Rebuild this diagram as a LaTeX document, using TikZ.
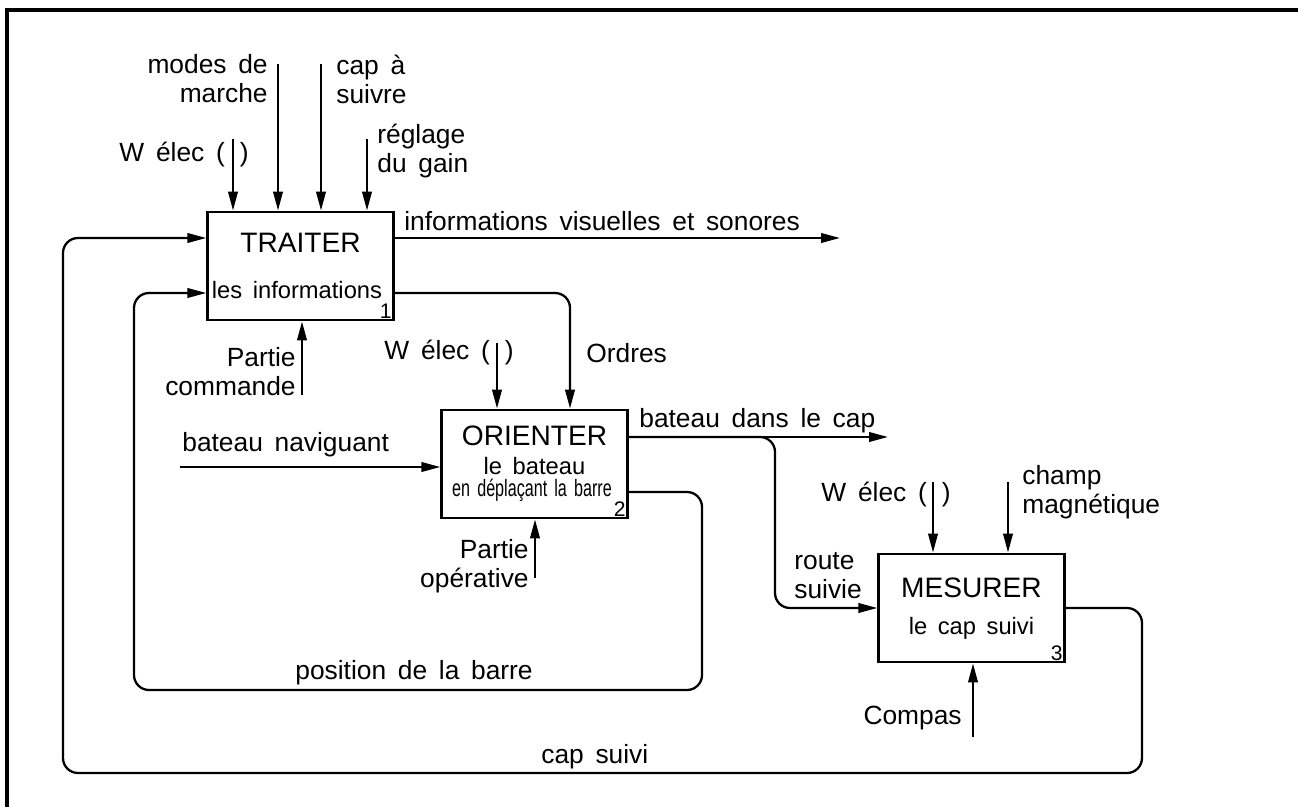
\documentclass[tikz,border=0pt]{standalone}
\usepackage{fontspec}
\usepackage{graphicx}
\setmainfont{Liberation Sans}[WordSpace=1.6]
\usetikzlibrary{arrows.meta}

\begin{document}
\begin{tikzpicture}[
    x=0.02cm, y=-0.02cm,
    bloc/.style={rectangle, draw, line width=1.3pt, minimum width=3.72cm, minimum height=2.17cm, inner sep=0pt},
    titre/.style={font=\fontsize{16}{19}\selectfont, inner sep=0pt},
    sous/.style={font=\fontsize{13.5}{16}\selectfont, inner sep=0pt},
    num/.style={font=\fontsize{12}{14}\selectfont, inner sep=1.5pt, anchor=south east},
    lbl/.style={font=\fontsize{15}{16.5}\selectfont, inner sep=0pt},
    fleche/.style={-{Triangle[length=0.38cm, width=0.19cm]}, line width=1.3pt},
    boucle/.style={fleche, rounded corners=0.3cm},
    cadre/.style={line width=2.2pt},
]
\useasboundingbox (0,0) rectangle (1298,807);
\clip (0,0) rectangle (1298,807);

% outer frame (cut by the page on the right and at the bottom)
\draw[cadre] (7,840) |- (1330,10);

% the three functions
\node[bloc] (traiter) at (300.5,266) {};
\node[titre] (t1) at (300.5,243) {TRAITER};
\node[sous] (s1) at (297,290) {les informations};
\node[num] (n1) at (traiter.south east) {1};

\node[bloc] (orienter) at (534.5,464) {};
\node[titre] (t2) at (534.5,436) {ORIENTER};
\node[sous] (s2) at (534.5,466) {le bateau};
\node[sous] (s2b) at (532,490) {\scalebox{0.68}[1]{en déplaçant la barre}};
\node[num] (n2) at (orienter.south east) {2};

\node[bloc] (mesurer) at (971.5,608) {};
\node[titre] (t3) at (971.5,588) {MESURER};
\node[sous] (s3) at (971.5,628) {le cap suivi};
\node[num] (n3) at (mesurer.south east) {3};

% free ends of the connectors
\coordinate (we1) at (233,139);
\coordinate (modes) at (278,64);
\coordinate (capas) at (321,64);
\coordinate (gain) at (367,139);
\coordinate (pc) at (302,395);
\coordinate (infoend) at (840,238);
\coordinate (ordk) at (570,293);
\coordinate (we2) at (497,343);
\coordinate (nav) at (180,467);
\coordinate (po) at (535,578);
\coordinate (capend) at (888,437);
\coordinate (rk) at (775,608);
\coordinate (pbo) at (702,492);
\coordinate (pb1) at (702,690);
\coordinate (pb2) at (134,690);
\coordinate (we3) at (933,482);
\coordinate (champ) at (1008,482);
\coordinate (compas) at (973,737);
\coordinate (cs1) at (1142,608);
\coordinate (cs2) at (1142,773);
\coordinate (cs3) at (63,773);

% inputs of TRAITER
\draw[fleche] (we1) -- (we1 |- traiter.north);
\draw[fleche] (modes) -- (modes |- traiter.north);
\draw[fleche] (capas) -- (capas |- traiter.north);
\draw[fleche] (gain) -- (gain |- traiter.north);
\draw[fleche] (pc) -- (pc |- traiter.south);

\node[lbl, anchor=east] (lwe1) at (249,155) {W élec (\hspace{0.3cm})};
\node[lbl, anchor=east, align=right] (lmodes) at (268,79) {modes de\\marche};
\node[lbl, anchor=west, align=left] (lcapas) at (336,79) {cap à\\suivre};
\node[lbl, anchor=west, align=left] (lgain) at (377,151) {réglage\\du gain};
\node[lbl, anchor=east, align=right] (lpc) at (296,372) {Partie\\commande};

% outputs of TRAITER
\draw[fleche] (traiter.east |- infoend) -- (infoend);
\node[lbl, anchor=west] (linfo) at (404,221) {informations visuelles et sonores};
\draw[boucle] (traiter.east |- ordk) -- (ordk) -- (ordk |- orienter.north);
\node[lbl, anchor=west] (lordres) at (586,353) {Ordres};

% ORIENTER
\draw[fleche] (we2) -- (we2 |- orienter.north);
\node[lbl, anchor=east] (lwe2) at (514,353) {W élec (\hspace{0.3cm})};
\draw[fleche] (nav) -- (nav -| orienter.west);
\node[lbl, anchor=west] (lnav) at (182,445) {bateau naviguant};
\draw[fleche] (po) -- (po |- orienter.south);
\node[lbl, anchor=east, align=right] (lpo) at (529,566) {Partie\\opérative};
\draw[fleche] (orienter.east |- capend) -- (capend);
\node[lbl, anchor=west] (lcap) at (639,421) {bateau dans le cap};
\draw[boucle] (orienter.east |- capend) -| (rk) -- (rk -| mesurer.west);
\node[lbl, anchor=west, align=left] (lroute) at (794,576) {route\\suivie};

% position de la barre
\draw[boucle] (orienter.east |- pbo) -- (pbo) -- (pb1) -- (pb2) -- (pb2 |- ordk) -- (traiter.west |- ordk);
\node[lbl, anchor=west] (lpos) at (295,673) {position de la barre};

% MESURER
\draw[fleche] (we3) -- (we3 |- mesurer.north);
\node[lbl, anchor=east] (lwe3) at (951,495) {W élec (\hspace{0.3cm})};
\draw[fleche] (champ) -- (champ |- mesurer.north);
\node[lbl, anchor=west, align=left] (lchamp) at (1022,492) {champ\\magnétique};
\draw[fleche] (compas) -- (compas |- mesurer.south);
\node[lbl, anchor=east] (lcompas) at (962,718) {Compas};

% cap suivi
\draw[boucle] (mesurer.east |- cs1) -- (cs1) -- (cs2) -- (cs3) -- (cs3 |- infoend) -- (traiter.west |- infoend);
\node[lbl, anchor=west] (lcs) at (541,757) {cap suivi};

\end{tikzpicture}
\end{document}
